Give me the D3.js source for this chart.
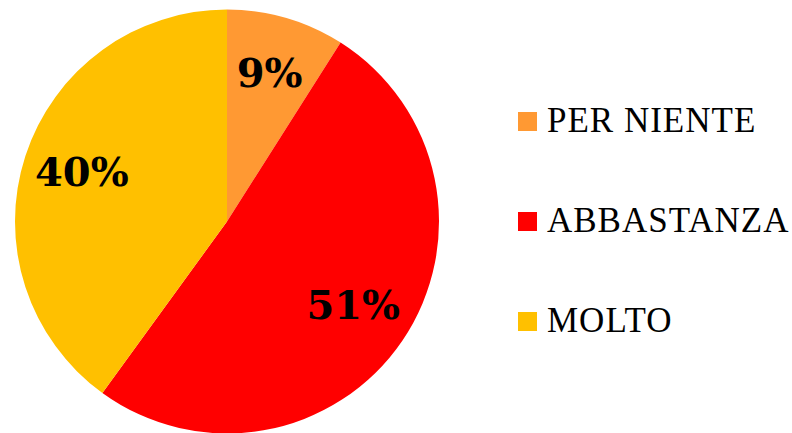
<!DOCTYPE html>
<html>
<head>
<meta charset="utf-8">
<script src="https://cdn.jsdelivr.net/npm/d3@7"></script>
<style>
  html, body { margin: 0; padding: 0; background: #fff; }
  svg { display: block; }
</style>
</head>
<body>
<svg id="chart" width="792" height="433"></svg>
<script>
const categories = ["PER NIENTE", "ABBASTANZA", "MOLTO"];
const values = [9, 51, 40];
const labels = ["9%", "51%", "40%"];
const colors = ["#FF9933", "#FF0000", "#FFC000"];

const svg = d3.select("#chart");
const cx = 227, cy = 221.5, R = 212;

const pie = d3.pie().sort(null).value(d => d.v);
const data = categories.map((c, i) => ({ c, v: values[i], label: labels[i], color: colors[i] }));
const arcs = pie(data);

const arc = d3.arc().innerRadius(0).outerRadius(R);
const labelArc = d3.arc().innerRadius(R * 0.72).outerRadius(R * 0.72);

const g = svg.append("g").attr("transform", `translate(${cx},${cy})`);

g.selectAll("path.slice")
  .data(arcs)
  .join("path")
  .attr("class", "slice")
  .attr("d", arc)
  .attr("fill", d => d.data.color);

g.selectAll("text.lbl")
  .data(arcs)
  .join("text")
  .attr("class", "lbl")
  .attr("transform", d => `translate(${labelArc.centroid(d)})`)
  .attr("text-anchor", "middle")
  .attr("dy", "0.3em")
  .style("font-family", "'DejaVu Serif', serif")
  .style("font-weight", "bold")
  .style("font-size", "40px")
  .attr("fill", "#000")
  .text(d => d.data.label);

// Legend
const legend = svg.append("g").attr("transform", "translate(518, 0)");
const rowY = d3.scalePoint().domain(categories).range([132, 332]);

const item = legend.selectAll("g.item")
  .data(data)
  .join("g")
  .attr("class", "item")
  .attr("transform", d => `translate(0, ${rowY(d.c)})`);

item.append("rect")
  .attr("x", 0)
  .attr("y", -20)
  .attr("width", 19)
  .attr("height", 19)
  .attr("fill", d => d.color);

item.append("text")
  .attr("x", 29)
  .attr("y", 0)
  .style("font-family", "'Liberation Serif', 'Times New Roman', serif")
  .style("font-size", "35px")
  .style("letter-spacing", "1px")
  .attr("fill", "#000")
  .text(d => d.c);
</script>
</body>
</html>
